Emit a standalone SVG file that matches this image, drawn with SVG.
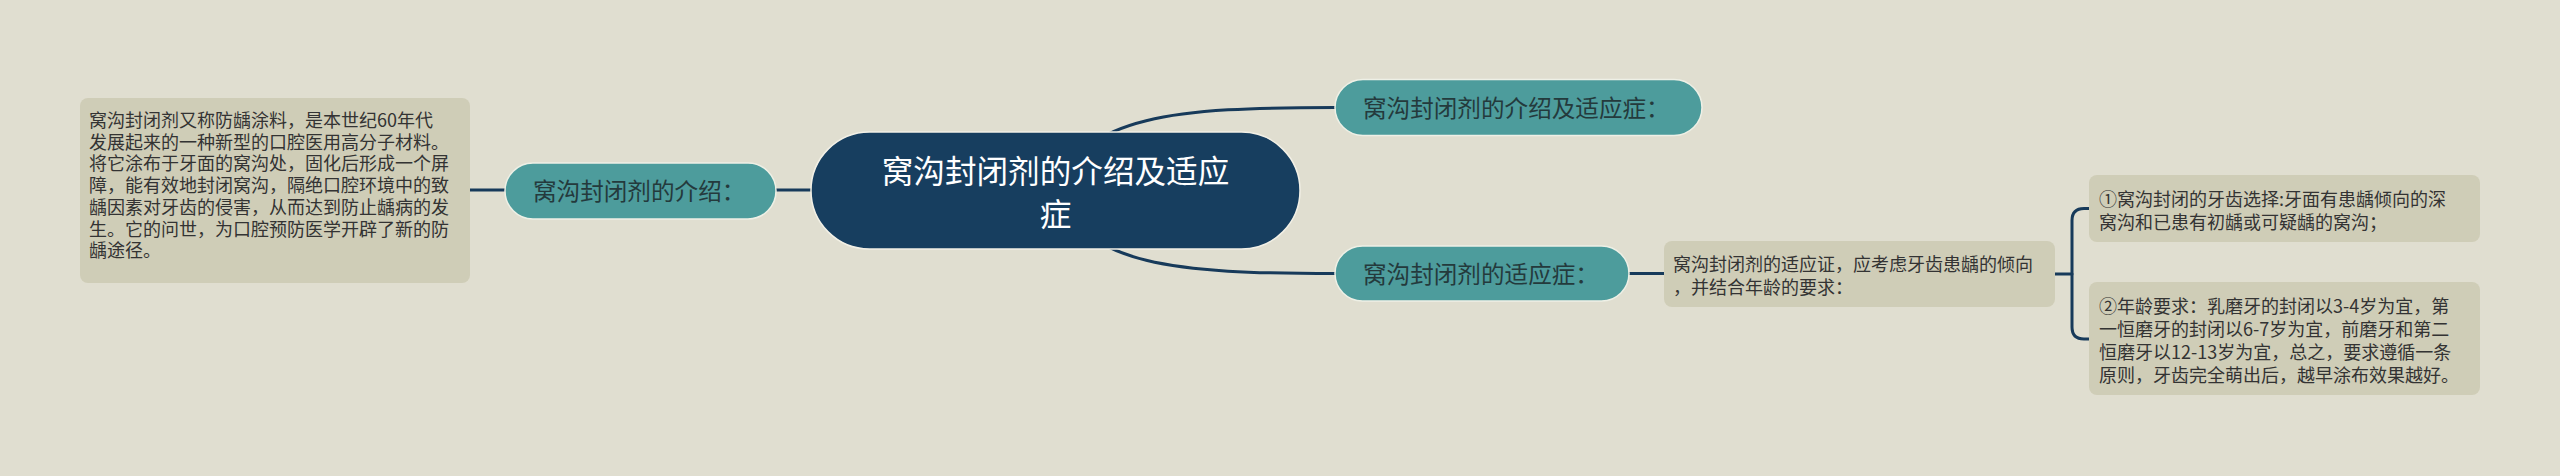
<svg xmlns="http://www.w3.org/2000/svg" width="2560" height="476" viewBox="0 0 2560 476">
<style>
.bg{fill:#e0ded0}
.conn{fill:none;stroke:#173a5a;stroke-width:3;stroke-linecap:round}
.hl{fill:none;stroke:#f4f2ea;stroke-width:1.2}
.root{fill:#173e5f;stroke:#f2f0e6;stroke-width:1.5}
.main{fill:#4d9c9c;stroke:#eef0e6;stroke-width:1.5}
.box{fill:#cfcdb7}
text{font-family:"Microsoft YaHei","Noto Sans CJK SC","Noto Sans",sans-serif}
.tr{fill:#ffffff;font-size:31.6px}
.tm{fill:#243a3c;font-size:23.6px}
.tb{fill:#333333;font-size:18px}
</style>
<rect class="bg" x="0" y="0" width="2560" height="476"/>
<g id="connectors">
<path class="conn" d="M470 190 H505"/>
<path class="conn" d="M776 190 H811"/>
<path class="conn" d="M1055 190.5 C1085 115 1175 107.5 1335 107.5"/>
<path class="conn" d="M1055 190.5 C1085 266 1175 273.5 1335 273.5"/>
<path class="conn" d="M1629 273.5 H1664"/>
<path class="conn" d="M2055 274 H2072"/>
<path class="conn" d="M2089 208.5 H2084 Q2072 208.5 2072 220.5 V327 Q2072 339 2084 339 H2089"/>
</g>
<g id="root">
<rect class="root" x="811" y="132" width="489" height="117" rx="58.5"/>
<text class="tr" x="1055.5" y="183" text-anchor="middle">窝沟封闭剂的介绍及适应</text>
<text class="tr" x="1055.5" y="226" text-anchor="middle">症</text>
</g>
<g id="intro">
<rect class="main" x="505" y="163" width="271" height="56" rx="28"/>
<text class="tm" x="533" y="200">窝沟封闭剂的介绍：</text>
</g>
<g id="intro-text">
<rect class="box" x="80" y="98" width="390" height="185" rx="8"/>
<text class="tb" x="89" y="127">窝沟封闭剂又称防龋涂料，是本世纪60年代</text>
<text class="tb" x="89" y="148.7">发展起来的一种新型的口腔医用高分子材料。</text>
<text class="tb" x="89" y="170.4">将它涂布于牙面的窝沟处，固化后形成一个屏</text>
<text class="tb" x="89" y="192.1">障，能有效地封闭窝沟，隔绝口腔环境中的致</text>
<text class="tb" x="89" y="213.8">龋因素对牙齿的侵害，从而达到防止龋病的发</text>
<text class="tb" x="89" y="235.5">生。它的问世，为口腔预防医学开辟了新的防</text>
<text class="tb" x="89" y="257.2">龋途径。</text>
</g>
<g id="intro-indication">
<rect class="main" x="1335" y="79.5" width="367" height="56" rx="28"/>
<text class="tm" x="1363" y="117">窝沟封闭剂的介绍及适应症：</text>
</g>
<g id="indication">
<rect class="main" x="1335" y="246" width="294" height="55" rx="27.5"/>
<text class="tm" x="1363" y="283">窝沟封闭剂的适应症：</text>
</g>
<g id="indication-text">
<rect class="box" x="1664" y="241" width="391" height="66" rx="8"/>
<text class="tb" x="1673" y="271">窝沟封闭剂的适应证，应考虑牙齿患龋的倾向</text>
<text class="tb" x="1673" y="294">，并结合年龄的要求：</text>
</g>
<g id="item1">
<rect class="box" x="2089" y="175" width="391" height="67" rx="8"/>
<text class="tb" x="2099" y="206">①窝沟封闭的牙齿选择:牙面有患龋倾向的深</text>
<text class="tb" x="2099" y="229">窝沟和已患有初龋或可疑龋的窝沟；</text>
</g>
<g id="item2">
<rect class="box" x="2089" y="282" width="391" height="113" rx="8"/>
<text class="tb" x="2099" y="313">②年龄要求：乳磨牙的封闭以3-4岁为宜，第</text>
<text class="tb" x="2099" y="336">一恒磨牙的封闭以6-7岁为宜，前磨牙和第二</text>
<text class="tb" x="2099" y="359">恒磨牙以12-13岁为宜，总之，要求遵循一条</text>
<text class="tb" x="2099" y="382">原则，牙齿完全萌出后，越早涂布效果越好。</text>
</g>
</svg>
